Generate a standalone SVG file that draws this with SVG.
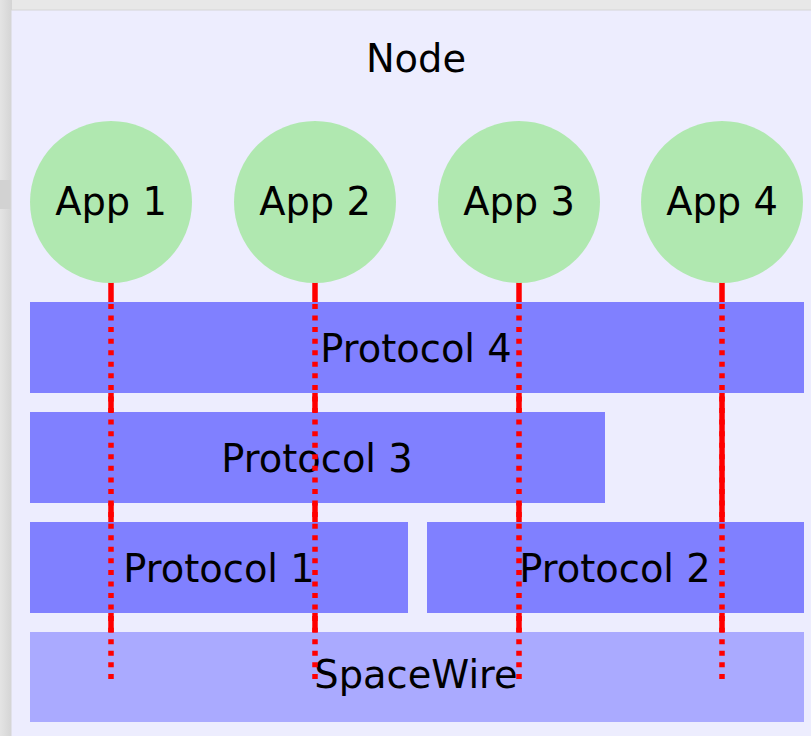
<svg xmlns="http://www.w3.org/2000/svg" width="811" height="736" viewBox="0 0 811 736">
<style>
.app{fill:#b0e8b0}
.proto{fill:#8080ff}
.phy{fill:#aaaaff}
text{font-family:"DejaVu Sans","Liberation Sans",sans-serif;font-size:38.4px;fill:#000;text-anchor:middle}
.solid{stroke:#ff0000;stroke-width:5.5;fill:none}
.dots{stroke:#ff0000;stroke-width:5.5;fill:none;stroke-dasharray:5 6.56}
</style>
<defs>
<linearGradient id="lg" x1="0" y1="0" x2="1" y2="0">
<stop offset="0" stop-color="#e4e4e4"/>
<stop offset="1" stop-color="#d4d4d4"/>
</linearGradient>
</defs>
<rect x="0" y="0" width="811" height="736" fill="#e8e8e8"/>
<rect x="0" y="0" width="12" height="736" fill="url(#lg)"/>
<rect x="0" y="180" width="11" height="29" fill="#d2d2d2"/>
<rect x="11" y="10" width="810" height="736" fill="#ededfe" stroke="#d6d6d6" stroke-width="1"/>
<g id="node-label"><text x="416" y="72">Node</text></g>
<g id="connectors-solid">
<line class="solid" x1="111" y1="280" x2="111" y2="679"/>
<line class="solid" x1="315" y1="280" x2="315" y2="679"/>
<line class="solid" x1="519" y1="280" x2="519" y2="679"/>
<line class="solid" x1="722" y1="280" x2="722" y2="679"/>
</g>
<g id="app1"><circle class="app" cx="111" cy="202" r="81"/><text x="111" y="215">App 1</text></g>
<g id="app2"><circle class="app" cx="315" cy="202" r="81"/><text x="315" y="215">App 2</text></g>
<g id="app3"><circle class="app" cx="519" cy="202" r="81"/><text x="519" y="215">App 3</text></g>
<g id="app4"><circle class="app" cx="722" cy="202" r="81"/><text x="722" y="215">App 4</text></g>
<g id="protocol4"><rect class="proto" x="30" y="302" width="774" height="91"/><text x="416" y="362">Protocol 4</text></g>
<g id="protocol3"><rect class="proto" x="30" y="412" width="575" height="91"/><text x="317" y="472">Protocol 3</text></g>
<g id="protocol1"><rect class="proto" x="30" y="522" width="378" height="91"/><text x="219" y="582">Protocol 1</text></g>
<g id="protocol2"><rect class="proto" x="427" y="522" width="377" height="91"/><text x="615" y="582">Protocol 2</text></g>
<g id="spacewire"><rect class="phy" x="30" y="632" width="774" height="90"/><text x="416" y="688">SpaceWire</text></g>
<g id="connectors-dotted">
<line class="dots" x1="111" y1="304" x2="111" y2="679"/>
<line class="dots" x1="315" y1="304" x2="315" y2="679"/>
<line class="dots" x1="519" y1="304" x2="519" y2="679"/>
<line class="dots" x1="722" y1="304" x2="722" y2="679"/>
</g>
</svg>
